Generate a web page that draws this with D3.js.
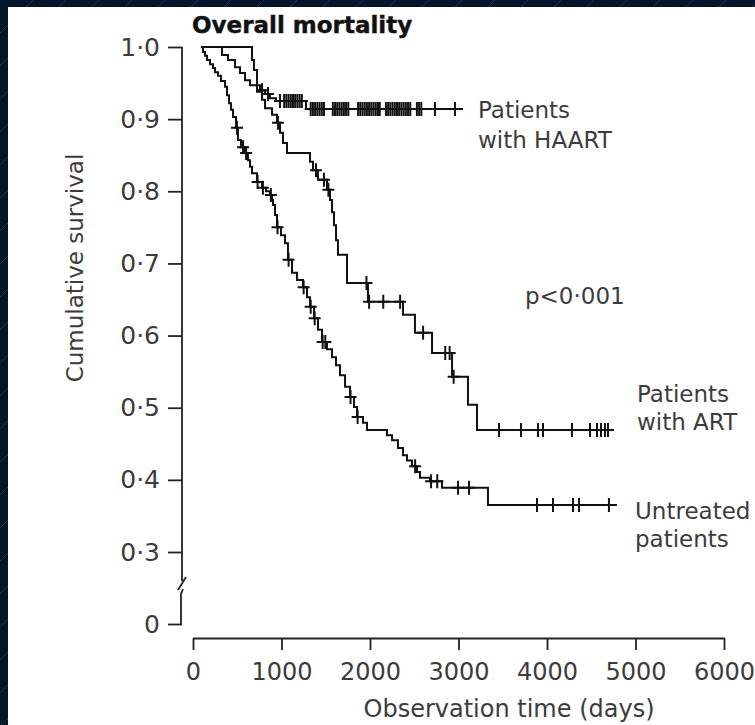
<!DOCTYPE html>
<html>
<head>
<meta charset="utf-8">
<script src="https://cdn.jsdelivr.net/npm/d3@7"></script>
<style>
  html, body { margin: 0; padding: 0; background: #021529; }
  svg { display: block; }
</style>
</head>
<body>
<svg id="chart" width="755" height="725"></svg>
<script>
// Kaplan-Meier survival: overall mortality by treatment group

const timeTicks = [0, 1000, 2000, 3000, 4000, 5000, 6000];
const survivalTicks = [0, 0.3, 0.4, 0.5, 0.6, 0.7, 0.8, 0.9, 1.0];

// Each group: follow-up start, [event time (days), survival after event], censored times, follow-up end
const untreatedStart = 90;
const untreatedEnd = 4790;
const untreatedEvents = [
  [113, 0.993], [136, 0.988], [158, 0.982], [192, 0.976], [226, 0.971], [249, 0.965],
  [282, 0.960], [316, 0.953], [362, 0.945], [384, 0.933], [407, 0.922], [429, 0.913],
  [452, 0.903], [486, 0.888], [508, 0.871], [542, 0.861], [588, 0.853], [621, 0.843],
  [644, 0.834], [667, 0.825], [723, 0.813], [780, 0.805], [825, 0.800], [870, 0.795],
  [893, 0.788], [904, 0.781], [927, 0.767], [949, 0.750], [994, 0.739], [1040, 0.728],
  [1073, 0.705], [1119, 0.687], [1175, 0.677], [1243, 0.667], [1288, 0.653], [1322, 0.640],
  [1367, 0.624], [1412, 0.608], [1458, 0.591], [1514, 0.581], [1571, 0.570], [1616, 0.559],
  [1661, 0.545], [1718, 0.529], [1774, 0.515], [1819, 0.501], [1853, 0.487], [1921, 0.479],
  [1966, 0.469], [2192, 0.462], [2249, 0.455], [2316, 0.444], [2373, 0.434], [2418, 0.427],
  [2475, 0.419], [2531, 0.411], [2565, 0.403], [2678, 0.398], [2814, 0.389], [3333, 0.365]
];
const untreatedCensored = [
  497, 565, 600, 730, 790, 880, 955, 1080, 1250, 1330, 1375, 1465, 1495,
  1780, 1860, 2510, 2690, 2760, 2995, 3119, 3887, 4068, 4294, 4362, 4700
];

const artStart = 90;
const artEnd = 4746;
const artEvents = [
  [328, 0.989], [395, 0.982], [475, 0.972], [531, 0.964], [588, 0.954], [644, 0.947],
  [723, 0.938], [780, 0.927], [814, 0.915], [893, 0.906], [949, 0.895], [983, 0.881],
  [1017, 0.867], [1062, 0.853], [1322, 0.841], [1356, 0.829], [1412, 0.816], [1514, 0.802],
  [1548, 0.788], [1571, 0.771], [1593, 0.753], [1616, 0.732], [1638, 0.712], [1740, 0.673],
  [1977, 0.647], [2373, 0.629], [2508, 0.604], [2701, 0.576], [2927, 0.543], [3107, 0.504],
  [3209, 0.469]
];
const artCensored = [
  960, 1390, 1480, 1530, 1960, 1990, 2150, 2340, 2600, 2850, 2900, 2945,
  3458, 3706, 3898, 3955, 4282, 4486, 4565, 4610, 4655, 4689
];

const haartStart = 90;
const haartEnd = 3051;
const haartEvents = [
  [667, 0.982], [689, 0.968], [723, 0.947], [757, 0.940], [814, 0.935], [870, 0.929],
  [938, 0.925], [1277, 0.914]
];
const haartCensored = [
  780, 847, 983, 1030, 1055, 1080, 1105, 1130, 1155, 1180, 1205, 1230,
  1330, 1355, 1380, 1405, 1430, 1455, 1480,
  1580, 1605, 1630, 1655, 1680, 1705, 1730, 1755,
  1865, 1890, 1915, 1940, 1965, 1990, 2015, 2040, 2065, 2090, 2110,
  2180, 2205, 2230, 2255, 2280, 2305, 2330, 2355, 2380, 2405, 2430, 2455,
  2530, 2555, 2580, 2734, 2960
];

const groupLabels = [
  { lines: ["Patients", "with HAART"], x: 478, y: 118, gap: 30 },
  { lines: ["Patients", "with ART"], x: 637, y: 402, gap: 28 },
  { lines: ["Untreated", "patients"], x: 635, y: 519, gap: 28 }
];
const pValueText = "p<0·001";

const svg = d3.select("#chart");
const W = 755, H = 725;
const font = "'DejaVu Sans', Verdana, sans-serif";
const ink = "#111111";
const grey = "#3c3c3c";

// Background: navy with fine diagonal hatch, white figure panel
const defs = svg.append("defs");
const pat = defs.append("pattern")
  .attr("id", "hatch").attr("patternUnits", "userSpaceOnUse")
  .attr("width", 33).attr("height", 33);
pat.append("rect").attr("width", 33).attr("height", 33).attr("fill", "#021529");
pat.append("path").attr("d", "M-2,2 L2,-2 M0,33 L33,0 M31,35 L35,31")
  .attr("stroke", "#1d3656").attr("stroke-width", 1);
svg.append("rect").attr("width", W).attr("height", H).attr("fill", "url(#hatch)");
svg.append("rect").attr("x", 8).attr("y", 7).attr("width", W - 8).attr("height", H - 7).attr("fill", "#ffffff");

// Scales: y has a broken segment between 0 and 0.3
const x = d3.scaleLinear().domain([0, 6000]).range([193, 724]);
const y = d3.scaleLinear().domain([0, 0.3, 1.0]).range([624, 552, 47]);
const fmt = d => d === 0 ? "0" : d.toFixed(1).replace(".", "·");

// X axis
const gx = svg.append("g").attr("transform", "translate(0,638)")
  .call(d3.axisBottom(x).tickValues(timeTicks).tickSize(12).tickSizeOuter(0).tickPadding(13).tickFormat(d3.format("d")));
gx.selectAll("path, line").attr("stroke", "#222").attr("stroke-width", 1.8);
gx.selectAll("text").attr("font-family", font).attr("font-size", 24).attr("fill", grey);

// Y axis (ticks only; spine drawn by hand with a break mark)
const axisX = 182;
const gy = svg.append("g").attr("transform", `translate(${axisX},0)`)
  .call(d3.axisLeft(y).tickValues(survivalTicks).tickSize(14).tickPadding(8).tickFormat(fmt));
gy.select(".domain").remove();
gy.selectAll("line").attr("stroke", "#222").attr("stroke-width", 1.8);
gy.selectAll("text").attr("font-family", font).attr("font-size", 25).attr("fill", grey);

const spine = svg.append("g").attr("fill", "none").attr("stroke", "#222").attr("stroke-width", 1.8);
spine.append("path").attr("d", `M${axisX},${y(1.0)} V581`);
spine.append("path").attr("d", `M${axisX + 4},577 L${axisX - 4},590`);
spine.append("path").attr("d", `M${axisX + 1},589 L${axisX - 1},594 V${y(0)}`);

// Survival curves
function stepPoints(start, events, end) {
  const pts = [[start, 1.0]].concat(events);
  pts.push([end, events[events.length - 1][1]]);
  return pts;
}
function survivalAt(events, t) {
  let s = 1.0;
  for (const [et, es] of events) { if (et <= t) s = es; }
  return s;
}
const line = d3.line().x(d => x(d[0])).y(d => y(d[1])).curve(d3.curveStepAfter);

const groups = [
  { start: untreatedStart, events: untreatedEvents, censored: untreatedCensored, end: untreatedEnd },
  { start: artStart, events: artEvents, censored: artCensored, end: artEnd },
  { start: haartStart, events: haartEvents, censored: haartCensored, end: haartEnd }
];

const plot = svg.append("g");
groups.forEach(g => {
  plot.append("path")
    .datum(stepPoints(g.start, g.events, g.end))
    .attr("d", line)
    .attr("fill", "none").attr("stroke", ink).attr("stroke-width", 2);
  plot.append("g").selectAll("path")
    .data(g.censored)
    .join("path")
    .attr("d", t => {
      const cx = x(t), cy = y(survivalAt(g.events, t));
      return `M${cx - 6},${cy} H${cx + 6} M${cx},${cy - 7} V${cy + 7}`;
    })
    .attr("fill", "none").attr("stroke", ink).attr("stroke-width", 2);
});

// Titles and labels
svg.append("text").attr("x", 192).attr("y", 33)
  .attr("font-family", font).attr("font-size", 23).attr("font-weight", "bold").attr("fill", ink)
  .attr("stroke", ink).attr("stroke-width", 0.4)
  .text("Overall mortality");

svg.append("text").attr("transform", "translate(83,268) rotate(-90)")
  .attr("text-anchor", "middle").attr("font-family", font).attr("font-size", 23).attr("fill", grey)
  .text("Cumulative survival");

svg.append("text").attr("x", 509).attr("y", 717).attr("text-anchor", "middle")
  .attr("font-family", font).attr("font-size", 24).attr("fill", grey)
  .text("Observation time (days)");

groupLabels.forEach(l => {
  l.lines.forEach((txt, i) => {
    svg.append("text").attr("x", l.x).attr("y", l.y + i * l.gap)
      .attr("font-family", font).attr("font-size", 23).attr("fill", grey).text(txt);
  });
});

svg.append("text").attr("x", 525).attr("y", 304)
  .attr("font-family", font).attr("font-size", 23).attr("fill", grey).text(pValueText);
</script>
</body>
</html>
